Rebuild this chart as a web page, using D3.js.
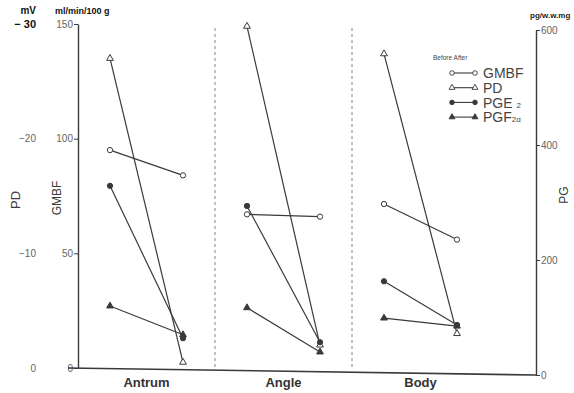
<!DOCTYPE html>
<html>
<head>
<meta charset="utf-8">
<script src="https://cdn.jsdelivr.net/npm/d3@7"></script>
<style>
  body { margin: 0; background: #fff; }
  svg { font-family: "Liberation Sans", Arial, sans-serif; }
</style>
</head>
<body>
<div class="canvas"></div>
<script>
// data
const categories = ['Antrum', 'Angle', 'Body'];
const phases = ['Before', 'After'];

const gmbfBefore = [95, 67, 71.5];
const gmbfAfter = [84, 66, 56];
const pdBefore = [-27, -29.8, -27.4];
const pdAfter = [-0.5, -2, -3];
const pge2Before = [329, 294, 163];
const pge2After = [64, 57, 87];
const pgf2aBefore = [120, 117, 99];
const pgf2aAfter = [70, 40, 85];

const gmbfTicks = [0, 50, 100, 150];
const pdTicks = [0, -10, -20];
const pgTicks = [0, 200, 400, 600];

const dims = { width: 574, height: 393 };
const ink = '#3a3a3a';
const grey = '#666';

const svg = d3.select('.canvas').append('svg')
  .attr('width', dims.width)
  .attr('height', dims.height);

// scales
const leftX = 78, rightX = 536;
const x = d3.scaleBand()
  .domain(categories)
  .range([leftX, leftX + 3 * 137]);

const phase = d3.scalePoint()
  .domain(phases)
  .range([32, 105]);

const yGmbf = d3.scaleLinear().domain([0, 150]).range([368, 24]);
const yPd = d3.scaleLinear().domain([0, -30]).range([368, 24]);
const yPg = d3.scaleLinear().domain([0, 600]).range([375, 30]);

const px = (cat, ph) => x(cat) + phase(ph);

// left axis (GMBF)
const leftAxis = svg.append('g')
  .attr('transform', `translate(${leftX},0)`)
  .call(d3.axisLeft(yGmbf).tickValues(gmbfTicks).tickSize(4).tickSizeOuter(0));
leftAxis.select('.domain').attr('stroke', ink).attr('stroke-width', 1.4);
leftAxis.selectAll('.tick line').attr('stroke', ink);
leftAxis.selectAll('.tick text').attr('fill', grey).style('font-size', '10px').attr('x', -5);

// PD tick labels
svg.append('g').selectAll('text')
  .data(pdTicks)
  .enter().append('text')
    .attr('x', 36)
    .attr('y', d => yPd(d))
    .attr('dy', '0.35em')
    .attr('text-anchor', 'end')
    .attr('fill', grey)
    .style('font-size', '10px')
    .text(d => d === 0 ? '0' : '\u2212' + Math.abs(d));

svg.append('text')
  .attr('x', 36).attr('y', yPd(-30)).attr('dy', '0.35em')
  .attr('text-anchor', 'end')
  .attr('fill', '#111').style('font-size', '11px').style('font-weight', 'bold')
  .text('\u2212 30');

svg.append('text')
  .attr('x', 36).attr('y', 14).attr('text-anchor', 'end')
  .attr('fill', '#111').style('font-size', '10px').style('font-weight', 'bold')
  .text('mV');

svg.append('text')
  .attr('x', 55).attr('y', 14)
  .attr('fill', '#111').style('font-size', '9px').style('font-weight', 'bold')
  .text('ml/min/100 g');

// axis titles
svg.append('text')
  .attr('transform', 'translate(20,200) rotate(-90)')
  .attr('text-anchor', 'middle')
  .attr('fill', ink).style('font-size', '13px')
  .text('PD');

svg.append('text')
  .attr('transform', 'translate(61,198) rotate(-90)')
  .attr('text-anchor', 'middle')
  .attr('fill', ink).style('font-size', '12px')
  .text('GMBF');

// right axis (PG)
const rightAxis = svg.append('g')
  .attr('transform', `translate(${rightX},0)`)
  .call(d3.axisRight(yPg).tickValues(pgTicks).tickSize(4).tickSizeOuter(0));
rightAxis.select('.domain').attr('stroke', ink).attr('stroke-width', 1.4);
rightAxis.selectAll('.tick line').attr('stroke', ink);
rightAxis.selectAll('.tick text').attr('fill', grey).style('font-size', '10px').attr('x', 5);

svg.append('text')
  .attr('transform', 'translate(568,195) rotate(-90)')
  .attr('text-anchor', 'middle')
  .attr('fill', ink).style('font-size', '12px')
  .text('PG');

svg.append('text')
  .attr('x', 530).attr('y', 18)
  .attr('fill', '#222').style('font-size', '8px').style('font-weight', 'bold')
  .text('pg/w.w.mg');

// baseline joins the two zeros
svg.append('line')
  .attr('x1', leftX - 10).attr('y1', yGmbf(0))
  .attr('x2', rightX).attr('y2', yPg(0))
  .attr('stroke', ink).attr('stroke-width', 1.6);

// dashed dividers between regions
svg.append('g').selectAll('line')
  .data(categories.slice(1))
  .enter().append('line')
    .attr('x1', d => x(d)).attr('x2', d => x(d))
    .attr('y1', 28).attr('y2', yGmbf(0))
    .attr('stroke', '#777')
    .attr('stroke-width', 0.9)
    .attr('stroke-dasharray', '3,3');

// category labels
svg.append('g').selectAll('text')
  .data(categories)
  .enter().append('text')
    .attr('x', d => x(d) + x.bandwidth() / 2)
    .attr('y', 387)
    .attr('text-anchor', 'middle')
    .attr('fill', '#333')
    .style('font-size', '13px')
    .style('font-weight', 'bold')
    .text(d => d);

// series
const series = [
  { name: 'GMBF', before: gmbfBefore, after: gmbfAfter, y: yGmbf, shape: d3.symbolCircle, fill: '#fff' },
  { name: 'PD', before: pdBefore, after: pdAfter, y: yPd, shape: d3.symbolTriangle, fill: '#fff' },
  { name: 'PGE2', before: pge2Before, after: pge2After, y: yPg, shape: d3.symbolCircle, fill: ink },
  { name: 'PGF2a', before: pgf2aBefore, after: pgf2aAfter, y: yPg, shape: d3.symbolTriangle, fill: ink }
];

const sizeOf = s => s.shape === d3.symbolCircle ? 22 : 20;

series.forEach(s => {
  const g = svg.append('g');
  const pairs = categories.map((c, i) => ({ cat: c, b: s.before[i], a: s.after[i] }));

  g.selectAll('line')
    .data(pairs)
    .enter().append('line')
      .attr('x1', d => px(d.cat, 'Before')).attr('y1', d => s.y(d.b))
      .attr('x2', d => px(d.cat, 'After')).attr('y2', d => s.y(d.a))
      .attr('stroke', ink)
      .attr('stroke-width', 1.2);

  const pts = [];
  pairs.forEach(d => {
    pts.push({ x: px(d.cat, 'Before'), y: s.y(d.b) });
    pts.push({ x: px(d.cat, 'After'), y: s.y(d.a) });
  });

  g.selectAll('path')
    .data(pts)
    .enter().append('path')
      .attr('d', d3.symbol().type(s.shape).size(sizeOf(s)))
      .attr('transform', d => `translate(${d.x},${d.y})`)
      .attr('fill', s.fill)
      .attr('stroke', ink)
      .attr('stroke-width', 1);
});

// legend
const legend = svg.append('g').attr('transform', 'translate(433,0)');
legend.append('text')
  .attr('x', 0).attr('y', 60)
  .attr('fill', '#444').style('font-size', '6.5px')
  .text('Before  After');

const legendRows = legend.selectAll('.row')
  .data(series)
  .enter().append('g')
    .attr('class', 'row')
    .attr('transform', (d, i) => `translate(0, ${73 + i * 14.7})`);

legendRows.append('line')
  .attr('x1', 19).attr('x2', 42)
  .attr('stroke', ink).attr('stroke-width', 1.1);

legendRows.each(function(s) {
  d3.select(this).selectAll('path')
    .data([19, 42])
    .enter().append('path')
      .attr('d', d3.symbol().type(s.shape).size(sizeOf(s) * 0.75))
      .attr('transform', d => `translate(${d},0)`)
      .attr('fill', s.fill)
      .attr('stroke', ink)
      .attr('stroke-width', 0.9);
});

const labels = legendRows.append('text')
  .attr('x', 50).attr('dy', '0.38em')
  .attr('fill', '#444')
  .style('font-size', '14px');

labels.each(function(s) {
  const t = d3.select(this);
  if (s.name === 'PGE2') {
    t.append('tspan').text('PGE ');
    t.append('tspan').style('font-size', '8px').text('2');
  } else if (s.name === 'PGF2a') {
    t.append('tspan').text('PGF');
    t.append('tspan').style('font-size', '8px').text('2\u03b1');
  } else {
    t.text(s.name);
  }
});
</script>
</body>
</html>
